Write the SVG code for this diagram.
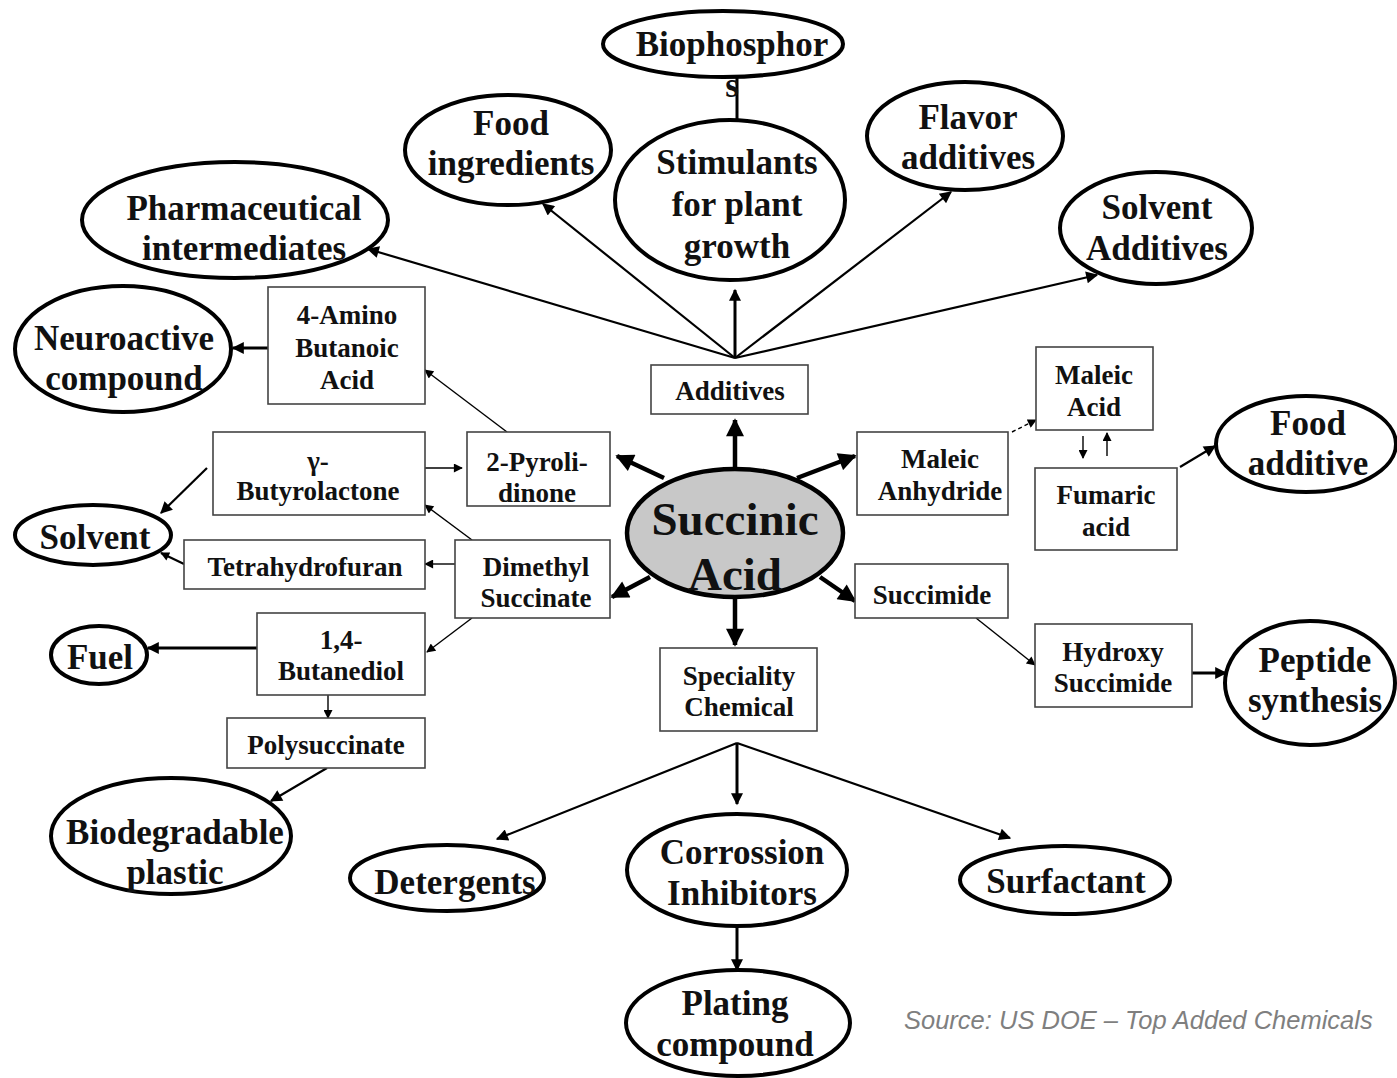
<svg xmlns="http://www.w3.org/2000/svg" width="1397" height="1078" viewBox="0 0 1397 1078">
<style>
.ell{fill:#fff;stroke:#000;stroke-width:4}
.box{fill:#fff;stroke:#444;stroke-width:1.6}
.et{font-family:"Liberation Serif","Times New Roman",serif;font-weight:bold;font-size:35px;fill:#111;text-anchor:middle}
.bt{font-family:"Liberation Serif","Times New Roman",serif;font-weight:bold;font-size:27px;fill:#111;text-anchor:middle}
.c{fill:none;stroke:#000}
.w4{stroke-width:4.5}
.w3{stroke-width:3}
.w2{stroke-width:2.2}
.w1{stroke-width:1.4}
</style>
<defs>
<marker id="aL" viewBox="0 0 10 10" refX="9" refY="5" markerWidth="20" markerHeight="18" markerUnits="userSpaceOnUse" orient="auto"><path d="M0,0 L10,5 L0,10 z" fill="#000"/></marker>
<marker id="aM" viewBox="0 0 10 10" refX="9" refY="5" markerWidth="14" markerHeight="12" markerUnits="userSpaceOnUse" orient="auto"><path d="M0,0 L10,5 L0,10 z" fill="#000"/></marker>
<marker id="aS" viewBox="0 0 10 10" refX="9" refY="5" markerWidth="11" markerHeight="9" markerUnits="userSpaceOnUse" orient="auto"><path d="M0,0 L10,5 L0,10 z" fill="#000"/></marker>
</defs>
<rect width="1397" height="1078" fill="#fff"/>

<g id="connectors">
<line class="c w4" x1="735" y1="468" x2="735" y2="420" marker-end="url(#aL)"/>
<line class="c w4" x1="664" y1="478" x2="617" y2="456" marker-end="url(#aL)"/>
<line class="c w4" x1="650" y1="577" x2="612" y2="597" marker-end="url(#aL)"/>
<line class="c w4" x1="735" y1="598" x2="735" y2="645" marker-end="url(#aL)"/>
<line class="c w4" x1="797" y1="478" x2="855" y2="456" marker-end="url(#aL)"/>
<line class="c w4" x1="820" y1="577" x2="855" y2="601" marker-end="url(#aL)"/>
<line class="c w2" x1="735" y1="358" x2="368" y2="249" marker-end="url(#aM)"/>
<line class="c w2" x1="735" y1="358" x2="543" y2="204" marker-end="url(#aM)"/>
<line class="c w3" x1="735" y1="358" x2="735" y2="290" marker-end="url(#aM)"/>
<line class="c w2" x1="735" y1="358" x2="951" y2="192" marker-end="url(#aM)"/>
<line class="c w2" x1="735" y1="358" x2="1097" y2="275" marker-end="url(#aM)"/>
<line class="c w3" x1="737" y1="120" x2="737" y2="76"/>
<line class="c w2" x1="737" y1="743" x2="497" y2="839" marker-end="url(#aM)"/>
<line class="c w3" x1="737" y1="743" x2="737" y2="804" marker-end="url(#aM)"/>
<line class="c w2" x1="737" y1="743" x2="1010" y2="838" marker-end="url(#aM)"/>
<line class="c w3" x1="737" y1="925" x2="737" y2="970" marker-end="url(#aM)"/>
<line class="c w1" x1="507" y1="432" x2="425" y2="370" marker-end="url(#aS)"/>
<line class="c w1" x1="425" y1="468" x2="462" y2="468" marker-end="url(#aS)"/>
<line class="c w1" x1="472" y1="540" x2="425" y2="505" marker-end="url(#aS)"/>
<line class="c w1" x1="455" y1="564" x2="425" y2="564" marker-end="url(#aS)"/>
<line class="c w1" x1="472" y1="618" x2="427" y2="652" marker-end="url(#aS)"/>
<line class="c w3" x1="268" y1="348" x2="233" y2="348" marker-end="url(#aM)"/>
<line class="c w2" x1="207" y1="468" x2="161" y2="513" marker-end="url(#aM)"/>
<line class="c w2" x1="184" y1="564" x2="161" y2="553" marker-end="url(#aS)"/>
<line class="c w3" x1="257" y1="648" x2="148" y2="648" marker-end="url(#aM)"/>
<line class="c w1" x1="328" y1="695" x2="328" y2="718" marker-end="url(#aS)"/>
<line class="c w2" x1="327" y1="768" x2="271" y2="801" marker-end="url(#aM)"/>
<line class="c w1" x1="1012" y1="432" x2="1036" y2="420" stroke-dasharray="4,3" marker-end="url(#aS)"/>
<line class="c w1" x1="1083" y1="436" x2="1083" y2="458" marker-end="url(#aS)"/>
<line class="c w1" x1="1107" y1="456" x2="1107" y2="433" marker-end="url(#aS)"/>
<line class="c w2" x1="1180" y1="467" x2="1215" y2="446" marker-end="url(#aM)"/>
<line class="c w1" x1="976" y1="618" x2="1035" y2="665" marker-end="url(#aS)"/>
<line class="c w3" x1="1192" y1="673" x2="1226" y2="673" marker-end="url(#aM)"/>
</g>

<g id="n-biophosphor"><ellipse class="ell" cx="723" cy="44" rx="120" ry="33"/><text class="et" x="732" y="56">Biophosphor</text><text class="et" x="732" y="97">s</text></g>
<g id="n-food-ingredients"><ellipse class="ell" cx="508" cy="150" rx="103" ry="55"/><text class="et" x="511" y="135">Food</text><text class="et" x="511" y="175">ingredients</text></g>
<g id="n-stimulants"><ellipse class="ell" cx="730" cy="200" rx="115" ry="80"/><text class="et" x="737" y="174">Stimulants</text><text class="et" x="737" y="216">for plant</text><text class="et" x="737" y="258">growth</text></g>
<g id="n-flavor"><ellipse class="ell" cx="965" cy="136" rx="98" ry="54"/><text class="et" x="968" y="129">Flavor</text><text class="et" x="968" y="169">additives</text></g>
<g id="n-solvent-additives"><ellipse class="ell" cx="1156" cy="228" rx="96" ry="56"/><text class="et" x="1157" y="219">Solvent</text><text class="et" x="1157" y="260">Additives</text></g>
<g id="n-pharma"><ellipse class="ell" cx="235" cy="220" rx="153" ry="58"/><text class="et" x="244" y="220">Pharmaceutical</text><text class="et" x="244" y="260">intermediates</text></g>
<g id="n-neuroactive"><ellipse class="ell" cx="123" cy="349" rx="108" ry="63"/><text class="et" x="124" y="350">Neuroactive</text><text class="et" x="124" y="390">compound</text></g>
<g id="n-solvent"><ellipse class="ell" cx="93" cy="535" rx="78" ry="30"/><text class="et" x="95" y="549">Solvent</text></g>
<g id="n-fuel"><ellipse class="ell" cx="99" cy="655" rx="48" ry="29"/><text class="et" x="100" y="669">Fuel</text></g>
<g id="n-biodegradable"><ellipse class="ell" cx="171" cy="836" rx="120" ry="58"/><text class="et" x="175" y="844">Biodegradable</text><text class="et" x="175" y="884">plastic</text></g>
<g id="n-detergents"><ellipse class="ell" cx="447" cy="878" rx="97" ry="33"/><text class="et" x="455" y="894">Detergents</text></g>
<g id="n-corrossion"><ellipse class="ell" cx="737" cy="870" rx="110" ry="56"/><text class="et" x="742" y="864">Corrossion</text><text class="et" x="742" y="905">Inhibitors</text></g>
<g id="n-surfactant"><ellipse class="ell" cx="1065" cy="880" rx="105" ry="34"/><text class="et" x="1066" y="893">Surfactant</text></g>
<g id="n-plating"><ellipse class="ell" cx="738" cy="1023" rx="112" ry="53"/><text class="et" x="735" y="1015">Plating</text><text class="et" x="735" y="1056">compound</text></g>
<g id="n-food-additive"><ellipse class="ell" cx="1306" cy="444" rx="90" ry="48"/><text class="et" x="1308" y="435">Food</text><text class="et" x="1308" y="475">additive</text></g>
<g id="n-peptide"><ellipse class="ell" cx="1310" cy="683" rx="85" ry="62"/><text class="et" x="1315" y="672">Peptide</text><text class="et" x="1315" y="712">synthesis</text></g>

<g id="n-succinic"><ellipse cx="735" cy="533" rx="108" ry="64" fill="#c8c8c8" stroke="#000" stroke-width="4.5"/><text class="et" style="font-size:47px" x="735" y="535">Succinic</text><text class="et" style="font-size:47px" x="735" y="590">Acid</text></g>

<g id="n-additives"><rect class="box" x="651" y="365" width="157" height="49"/><text class="bt" x="730" y="400">Additives</text></g>
<g id="n-4amino"><rect class="box" x="268" y="287" width="157" height="117"/><text class="bt" x="347" y="324">4-Amino</text><text class="bt" x="347" y="357">Butanoic</text><text class="bt" x="347" y="389">Acid</text></g>
<g id="n-gbl"><rect class="box" x="213" y="432" width="212" height="83"/><text class="bt" x="318" y="470">γ-</text><text class="bt" x="318" y="500">Butyrolactone</text></g>
<g id="n-pyrolidinone"><rect class="box" x="467" y="432" width="143" height="74"/><text class="bt" x="537" y="471">2-Pyroli-</text><text class="bt" x="537" y="502">dinone</text></g>
<g id="n-thf"><rect class="box" x="184" y="540" width="241" height="49"/><text class="bt" x="305" y="576">Tetrahydrofuran</text></g>
<g id="n-dms"><rect class="box" x="455" y="540" width="155" height="78"/><text class="bt" x="536" y="576">Dimethyl</text><text class="bt" x="536" y="607">Succinate</text></g>
<g id="n-bdo"><rect class="box" x="257" y="613" width="168" height="82"/><text class="bt" x="341" y="649">1,4-</text><text class="bt" x="341" y="680">Butanediol</text></g>
<g id="n-polysuccinate"><rect class="box" x="227" y="718" width="198" height="50"/><text class="bt" x="326" y="754">Polysuccinate</text></g>
<g id="n-maleic-anhydride"><rect class="box" x="857" y="432" width="151" height="83"/><text class="bt" x="940" y="468">Maleic</text><text class="bt" x="940" y="500">Anhydride</text></g>
<g id="n-succimide"><rect class="box" x="855" y="564" width="153" height="54"/><text class="bt" x="932" y="604">Succimide</text></g>
<g id="n-maleic-acid"><rect class="box" x="1036" y="347" width="117" height="83"/><text class="bt" x="1094" y="384">Maleic</text><text class="bt" x="1094" y="416">Acid</text></g>
<g id="n-fumaric"><rect class="box" x="1035" y="468" width="142" height="82"/><text class="bt" x="1106" y="504">Fumaric</text><text class="bt" x="1106" y="536">acid</text></g>
<g id="n-hydroxy"><rect class="box" x="1035" y="624" width="157" height="83"/><text class="bt" x="1113" y="661">Hydroxy</text><text class="bt" x="1113" y="692">Succimide</text></g>
<g id="n-speciality"><rect class="box" x="660" y="648" width="157" height="83"/><text class="bt" x="739" y="685">Speciality</text><text class="bt" x="739" y="716">Chemical</text></g>

<text x="904" y="1029" font-family="Liberation Sans, Arial, sans-serif" font-style="italic" font-size="25.5" fill="#7f7f7f">Source: US DOE – Top Added Chemicals</text>
</svg>
